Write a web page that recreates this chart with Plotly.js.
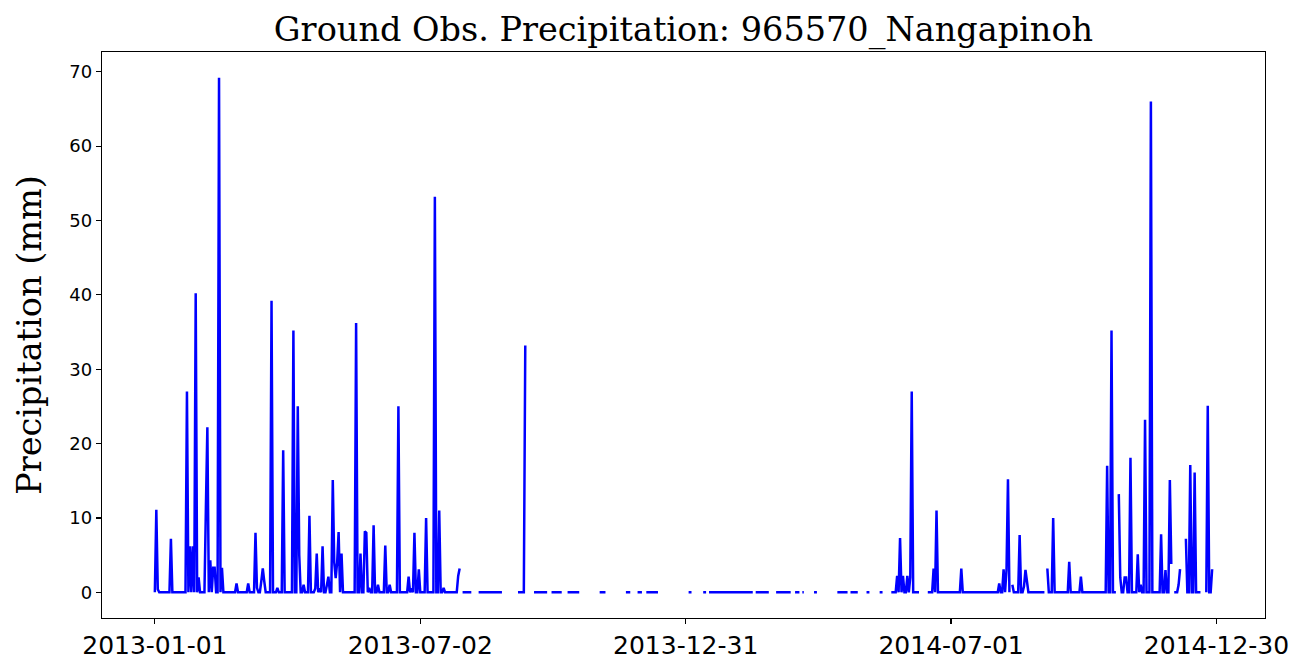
<!DOCTYPE html>
<html>
<head>
<meta charset="utf-8">
<script src="https://cdn.plot.ly/plotly-3.0.1.min.js"></script>
<style>
html,body{margin:0;padding:0;background:#fff;}
#chart{width:1305px;height:672px;}
</style>
</head>
<body>
<div id="chart"></div>
<script>
// ---- data (day offsets from start date) ----
const startDate = "2013-01-01";
// observed periods (inclusive day offsets) – zero rainfall unless listed below
const obsStartDay = [0, 211, 222, 249, 260, 272, 283, 305, 323, 331, 337, 366, 376, 380, 412, 426, 439, 444, 452, 468, 477, 488, 497, 505, 530, 588, 612, 661, 699, 707, 721];
const obsEndDay   = [209, 217, 238, 254, 269, 279, 291, 309, 326, 334, 345, 368, 378, 410, 421, 436, 442, 445, 454, 475, 482, 490, 499, 524, 586, 610, 659, 697, 703, 717, 725];
// days with non-zero precipitation
const rainDay = [1, 2, 11, 22, 24, 26, 28, 30, 35, 36, 38, 40, 41, 44, 46, 56, 64, 69, 70, 73, 74, 75, 80, 84, 88, 95, 98, 99, 102, 106, 110, 111, 113, 115, 118, 119, 122, 123, 124, 125, 126, 128, 138, 141, 144, 145, 147, 150, 153, 158, 161, 167, 174, 176, 178, 181, 186, 192, 195, 198, 208, 209,
  254,
  509, 511, 513, 516, 518, 519, 534, 536, 553, 579, 582, 584, 585, 588, 593, 596, 597, 598, 612, 616, 627, 635, 653, 656, 661, 662, 665, 666, 669, 674, 676, 679, 683, 690, 693, 696, 697, 702, 703, 707, 710, 713, 722, 725];
const rainMm = [11.1, 0.4, 7.2, 27, 6.2, 6.2, 40.2, 2, 11.4, 22.2, 4.3, 3.3, 3.3, 69.2, 3.3, 1.2, 1.2, 8, 0.6, 1.5, 3.2, 1.5, 39.2, 0.6, 19.1, 35.2, 25, 5, 1, 10.3, 0.5, 5.2, 0.5, 6.2, 1, 2.1, 15.1, 4, 1.9, 4, 8.1, 5.2, 36.2, 5.2, 8.2, 8, 0.6, 9, 1, 6.3, 1, 25, 2.1, 0.5, 8, 3.1, 10, 53.2, 11, 0.6, 2.2, 3.2,
  33.2,
  2.2, 7.3, 2.2, 2.2, 2, 27, 3.2, 11, 3.2, 1.2, 3.1, 3, 15.2, 1, 7.7, 0.8, 3, 1.1, 3.2, 10, 4.1, 2.1, 17, 35.2, 13.2, 2, 2, 2, 18.1, 5.1, 1, 23.2, 66, 7.8, 3, 15.1, 3.8, 1, 3.1, 7.2, 17.1, 16.1, 25.1, 3.1];
const tickDays  = [0, 182, 364, 546, 728];
const tickLabels = ["2013-01-01", "2013-07-02", "2013-12-31", "2014-07-01", "2014-12-30"];
const chartTitle = "Ground Obs. Precipitation: 965570_Nangapinoh";
const yTitle = "Precipitation (mm)";

// ---- build daily series ----
const DAY = 86400000;
const t0 = Date.parse(startDate + "T00:00:00Z");
function dayToStr(d){ return new Date(t0 + d*DAY).toISOString().slice(0,19).replace("T"," "); }
const lastDay = Math.max(...obsEndDay);
const vals = new Array(lastDay+1).fill(null);
for (let i=0;i<obsStartDay.length;i++){
  for (let d=obsStartDay[i]; d<=obsEndDay[i]; d++) vals[d]=0;
}
for (let i=0;i<rainDay.length;i++) vals[rainDay[i]] = rainMm[i];
const xs = vals.map((v,d)=>dayToStr(d));

const span = lastDay;
const xr = [dayToStr(-0.05*span), dayToStr(lastDay + 0.05*span)];
const ymax = Math.max(...rainMm);
const yr = [-0.05*ymax, ymax*1.05];

const trace = {
  x: xs, y: vals, type: "scatter", mode: "lines",
  line: {color: "#0000ff", width: 2.5},
  connectgaps: false, hoverinfo: "x+y"
};

const axisCommon = {
  showline: true, mirror: true, linecolor: "#000", linewidth: 1.2,
  ticks: "outside", ticklen: 5, tickwidth: 1.2, tickcolor: "#000",
  showgrid: false, zeroline: false
};

const layout = {
  width: 1305, height: 672,
  paper_bgcolor: "#fff", plot_bgcolor: "#fff",
  margin: {l: 102, r: 40, t: 52, b: 54},
  showlegend: false,
  title: {text: chartTitle, xref: "paper", x: 0.5, xanchor: "center", y: 0.957, yanchor: "middle",
          font: {family: "DejaVu Serif, serif", size: 33.5, color: "#000"}},
  xaxis: Object.assign({}, axisCommon, {
    type: "date", range: xr,
    tickmode: "array", tickvals: tickDays.map(dayToStr), ticktext: tickLabels,
    tickfont: {family: "DejaVu Sans, sans-serif", size: 25, color: "#000"}
  }),
  yaxis: Object.assign({}, axisCommon, {
    range: yr, tickmode: "array", tickvals: [0,10,20,30,40,50,60,70],
    tickfont: {family: "DejaVu Sans, sans-serif", size: 18, color: "#000"},
    title: {text: yTitle, standoff: 17, font: {family: "DejaVu Serif, serif", size: 33.5, color: "#000"}}
  })
};

Plotly.newPlot("chart", [trace], layout, {staticPlot: true, displayModeBar: false});
</script>
</body>
</html>
